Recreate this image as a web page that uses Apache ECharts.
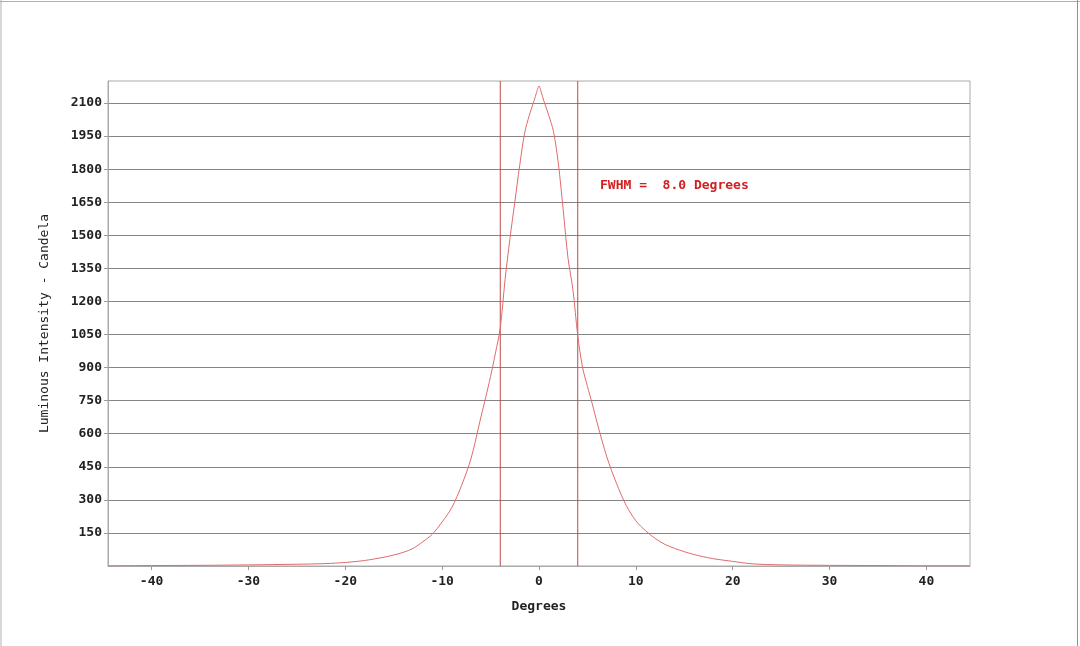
<!DOCTYPE html>
<html>
<head>
<meta charset="utf-8">
<script src="https://cdn.jsdelivr.net/npm/echarts@6/dist/echarts.min.js"></script>
<style>
html,body{margin:0;padding:0;background:#fff;}
#chart{width:1080px;height:646px;}
</style>
</head>
<body>
<div id="chart"></div>
<script>
// Angle (degrees) and luminous intensity (candela)
var angles = [-44.5,-40,-35,-30,-25,-22,-20,-18,-16,-15,-14,-13,-12,-11,-10,-9,-8,-7,-6,-5.5,-5,-4.5,-4,-3.5,-3,-2.5,-2,-1.5,-1,-0.5,-0.25,0,0.25,0.5,1,1.5,2,2.5,3,3.5,4,4.5,5,5.5,6,7,8,9,10,11,12,13,14,15,16,17,18,20,22,25,30,35,40,44.5];
var intensity = [1,2,3,5,8,11,16,25,40,50,62,80,110,145,200,265,365,490,675,765,860,965,1080,1300,1485,1650,1815,1960,2045,2112,2148,2178,2146,2110,2045,1970,1825,1615,1395,1255,1045,900,815,735,650,495,375,275,205,160,125,98,80,65,52,42,33,21,10,5,3,2,1,1];
var fwhmLines = [-4, 4];
var fwhmText = 'FWHM =  8.0 Degrees';
var xTicks = [-40,-30,-20,-10,0,10,20,30,40];
var yTicks = [150,300,450,600,750,900,1050,1200,1350,1500,1650,1800,1950,2100];
var yMin = 0, yMax = 2200;

var font = 'DejaVu Sans Mono';
var chart = echarts.init(document.getElementById('chart'), null, {renderer:'canvas'});
var series = [{
  type:'line',
  data: angles.map(function(a,i){return [a, intensity[i]];}),
  smooth: 0.3,
  showSymbol:false,
  lineStyle:{color:'#e06a6a', width:1},
  z:3
}];
fwhmLines.forEach(function(v){
  series.push({
    type:'line', data:[[v,yMin],[v,yMax]], showSymbol:false, silent:true,
    lineStyle:{color:'#c04848', width:1}, z:2
  });
});
chart.setOption({
  backgroundColor: '#ffffff',
  animation: false,
  grid: {left:108, right:110, top:81, bottom:80, show:true, borderColor:'#aaaaaa', borderWidth:1, backgroundColor:'transparent'},
  xAxis: {
    type:'value', min:-44.5, max:44.5,
    name:'Degrees', nameLocation:'middle', nameGap:34,
    nameTextStyle:{fontFamily:font, fontSize:13, fontWeight:'bold', color:'#222'},
    axisLine:{show:true, onZero:false, lineStyle:{color:'#aaaaaa'}},
    axisTick:{show:true, customValues:xTicks, length:4, lineStyle:{color:'#999'}},
    axisLabel:{customValues:xTicks, margin:9, fontFamily:font, fontSize:13, fontWeight:'bold', color:'#222',
      formatter:function(v){return String(v);}},
    splitLine:{show:false}
  },
  yAxis: {
    type:'value', min:yMin, max:yMax, interval:150,
    name:'Luminous Intensity - Candela', nameLocation:'middle', nameGap:57,
    nameTextStyle:{fontFamily:font, fontSize:13, color:'#222'},
    axisLine:{show:true, onZero:false, lineStyle:{color:'#aaaaaa'}},
    axisTick:{show:true, customValues:yTicks, length:4, lineStyle:{color:'#999'}},
    axisLabel:{customValues:yTicks, margin:6, fontFamily:font, fontSize:13, fontWeight:'bold', color:'#222',
      formatter:function(v){return String(v);}},
    splitLine:{show:true, lineStyle:{color:'#858585', width:1}}
  },
  series: series,
  graphic: [
    {type:'text', left:600, top:179, style:{text:fwhmText, fill:'#d02020', font:'bold 13px "DejaVu Sans Mono"'}},
    {type:'line', shape:{x1:1,y1:0,x2:1,y2:646}, style:{stroke:'#b0b0b0', lineWidth:1}},
    {type:'line', shape:{x1:0,y1:1.5,x2:1080,y2:1.5}, style:{stroke:'#b0b0b0', lineWidth:1}},
    {type:'line', shape:{x1:1077.5,y1:0,x2:1077.5,y2:646}, style:{stroke:'#909090', lineWidth:1}}
  ]
});
</script>
</body>
</html>
